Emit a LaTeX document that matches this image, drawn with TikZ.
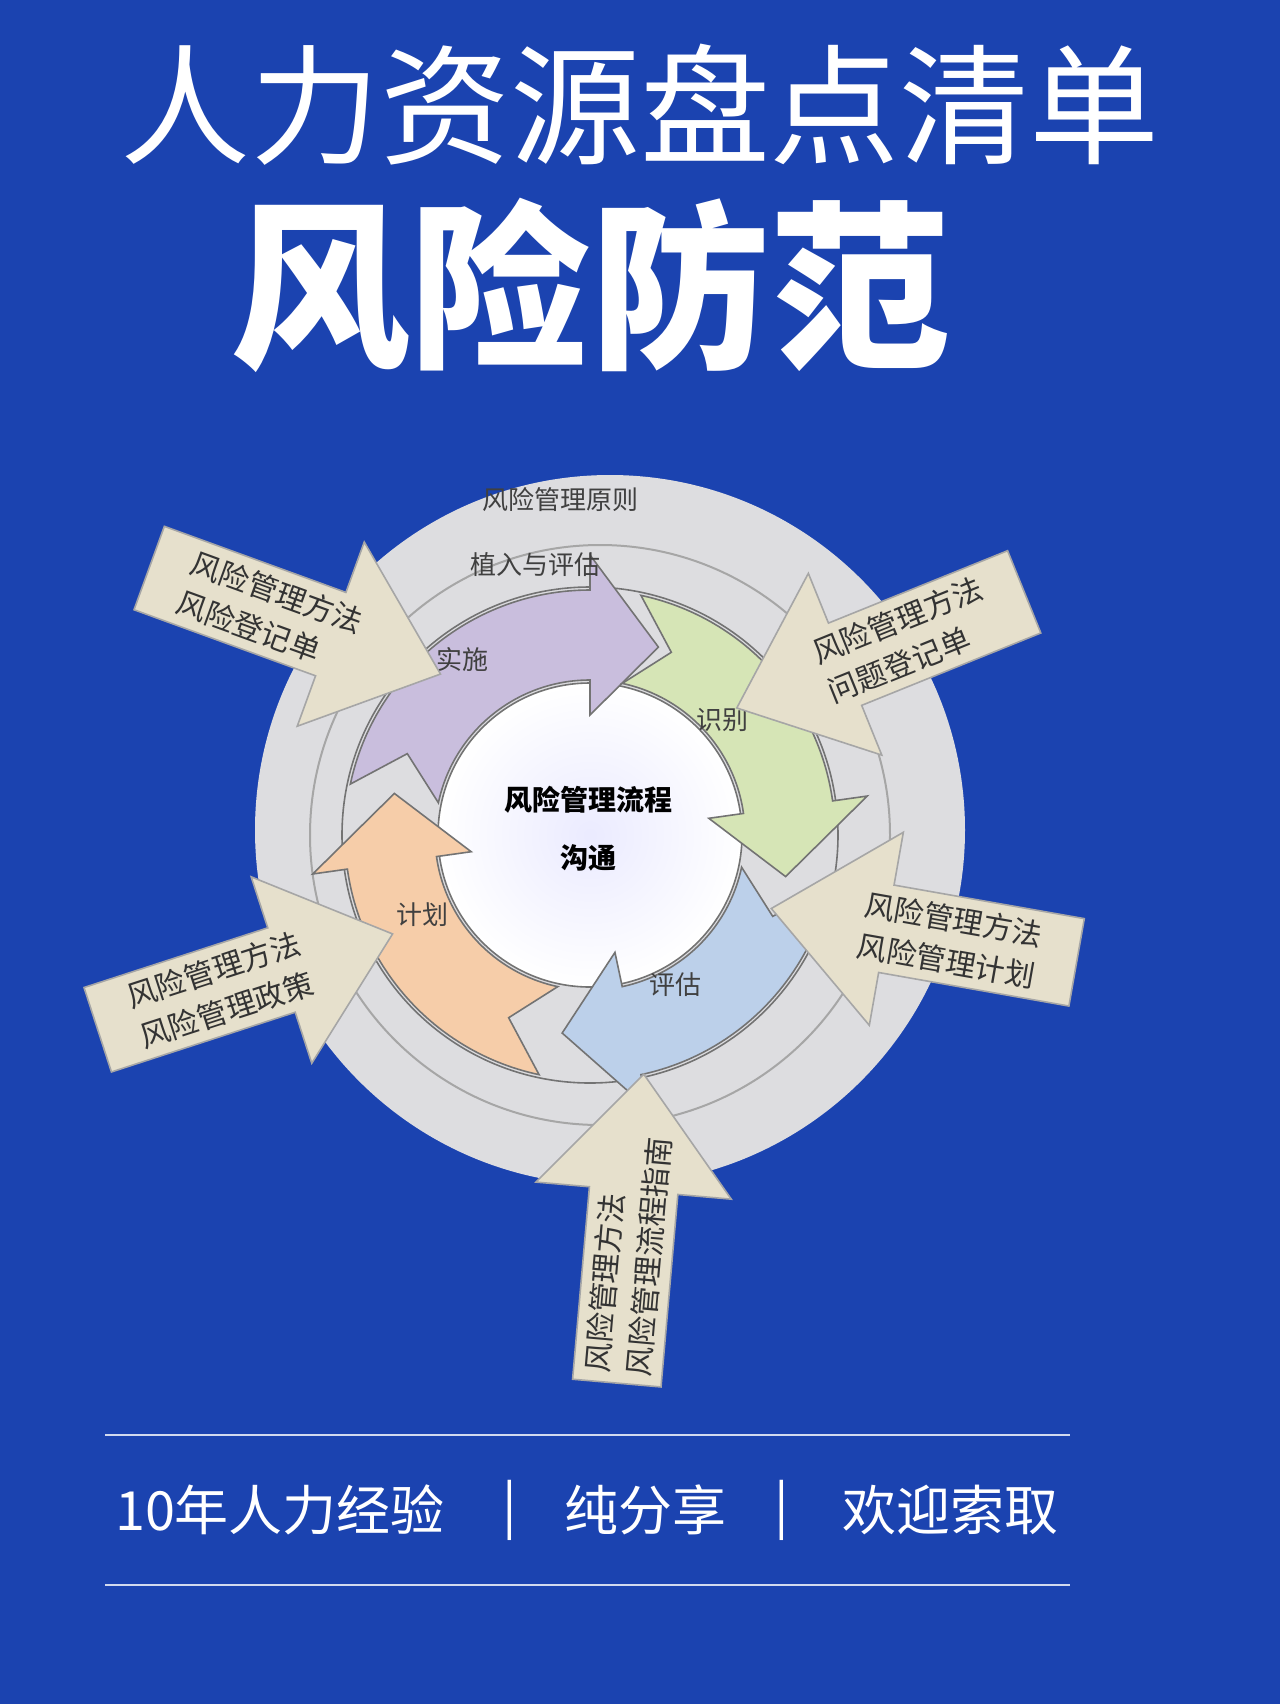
\documentclass[tikz,border=0pt]{standalone}
\usepackage{fontspec}
\newfontfamily\cjk{Noto Sans CJK SC}
\usetikzlibrary{shapes.arrows,positioning}
\definecolor{bgblue}{HTML}{1B43B0}
\definecolor{disk}{HTML}{DDDDE0}
\definecolor{beige}{HTML}{E6E0CC}
\definecolor{cpurple}{HTML}{C9BEDD}
\definecolor{cgreen}{HTML}{D6E5B6}
\definecolor{cblue}{HTML}{BCD0EA}
\definecolor{corange}{HTML}{F6CDA9}
\tikzset{
  blockarrow/.style={single arrow,draw=gray!70,fill=beige,line width=0.8pt,
    single arrow head extend=24pt,single arrow tip angle=80,minimum height=155pt,
    minimum width=98pt,inner sep=2pt,align=left,font=\cjk\fontsize{15}{21}\selectfont,text=black!80},
  lbl/.style={font=\cjk\fontsize{13}{15}\selectfont,text=black!75},
  foot/.style={font=\cjk\fontsize{27}{30}\selectfont,text=white}
}
% cycle arrow: color, start angle, body end angle, head end angle
\newcommand{\cycarrow}[4]{%
  \fill[#1,draw=black!55,line width=0.8pt,shift={(590,835)}]
    (#2:245) -- (#2+12:200) -- (#2:155) arc[start angle=#2,end angle=#3,radius=155]
    -- (#3:120) -- (#4:200) -- (#3:280) -- (#3:245)
    arc[start angle=#3,end angle=#2,radius=245] -- cycle;}
\begin{document}
\begin{tikzpicture}[x=0.5pt,y=-0.5pt]
\fill[bgblue] (0,0) rectangle (1280,1704);
\useasboundingbox (0,0) rectangle (1280,1704);

%Titles
\node[font=\cjk\fontsize{65}{70}\selectfont,text=white] (title) at (640,105) {人力资源盘点清单};
\node[font=\cjk\bfseries\fontsize{90}{96}\selectfont,text=white] (subtitle) at (590,285) {风险防范};

%Rings
\fill[disk] (610,830) circle (355);
\draw[gray!70,line width=1pt] (600,835) circle (290);
\draw[black!55,line width=0.8pt] (590,835) circle (248);
\shade[inner color=blue!8,outer color=white,draw=black!55,line width=0.8pt] (590,835) circle (152);

%Cycle
\cycarrow{cpurple}{192}{270}{290}
\cycarrow{cgreen}{282}{352}{372}
\cycarrow{cblue}{12}{78}{98}
\cycarrow{corange}{102}{172}{192}

\node[lbl] (principle) at (560,500) {风险管理原则};
\node[lbl] (embed) at (535,565) {植入与评估};
\node[lbl] (impl) at (462,660) {实施};
\node[lbl] (ident) at (722,720) {识别};
\node[lbl] (assess) at (675,985) {评估};
\node[lbl] (plan) at (422,915) {计划};
\node[font=\cjk\bfseries\fontsize{14}{16}\selectfont] (core) at (588,800) {风险管理流程};
\node[font=\cjk\bfseries\fontsize{14}{16}\selectfont] (comm) at (588,858) {沟通};

%Inputs
\node[blockarrow,rotate=-20] (inTL) at (270,612) {风险管理方法\\风险登记单};
\node[blockarrow,rotate=22,shape border rotate=180] (inTR) at (905,640) {风险管理方法\\问题登记单};
\node[blockarrow,rotate=-10,shape border rotate=180] (inR) at (950,940) {风险管理方法\\风险管理计划};
\node[blockarrow,rotate=18] (inL) at (220,990) {风险管理方法\\风险管理政策};
\node[blockarrow,rotate=85] (inB) at (628,1255) {风险管理方法\\风险管理流程指南};

%Footer
\draw[white!80!bgblue,line width=0.8pt] (105,1435) -- (1070,1435);
\draw[white!80!bgblue,line width=0.8pt] (105,1585) -- (1070,1585);
\node[foot] (f1) at (280,1510) {10年人力经验};
\node[foot] (s1) at (510,1510) {|};
\node[foot] (f2) at (645,1510) {纯分享};
\node[foot] (s2) at (782,1510) {|};
\node[foot] (f3) at (950,1510) {欢迎索取};
\end{tikzpicture}
\end{document}
